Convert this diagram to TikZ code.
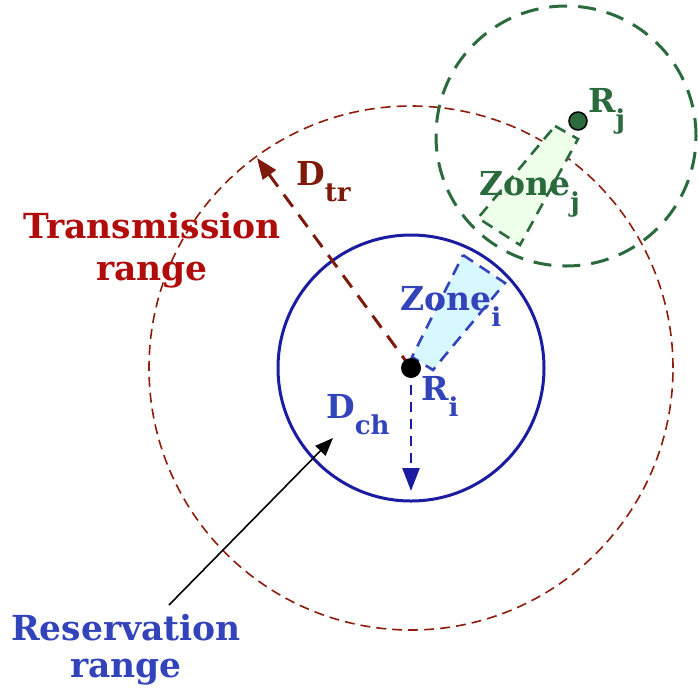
\documentclass[tikz,border=0pt]{standalone}
\usepackage{fontspec}
\setmainfont{DejaVu Serif}
\usetikzlibrary{arrows.meta}
\definecolor{redcirc}{HTML}{8C1C0C}
\definecolor{dtrcol}{HTML}{7D1A0C}
\definecolor{transcol}{HTML}{B00C0C}
\definecolor{grn}{HTML}{2A6A3C}
\definecolor{grnfill}{HTML}{EEFFEA}
\definecolor{navy}{HTML}{1C1CA0}
\definecolor{bluetxt}{HTML}{3344BB}
\definecolor{cyanfill}{HTML}{D8F8FF}
\newcommand\sbs[1]{\raisebox{-16pt}{\fontsize{26}{26}\selectfont #1}}
\tikzset{
  lbl/.style={font=\fontsize{33}{36}\selectfont\bfseries, inner sep=0pt, anchor=base west},
  biglbl/.style={font=\fontsize{34.5}{36}\selectfont\bfseries, inner sep=0pt, anchor=base},
  zoneborder/.style={line width=2.6pt, dash pattern=on 12pt off 8pt},
}
\begin{document}
\begin{tikzpicture}[x=1pt,y=-1pt]
\useasboundingbox (0,0) rectangle (698,691);
\coordinate (Ric) at (411,368);
% transmission range
\draw[redcirc, line width=1.6pt, dash pattern=on 10pt off 6pt] (Ric) circle[radius=262pt];
% green circle
\draw[grn, line width=3pt, dash pattern=on 18pt off 11pt] (566,136) circle[radius=130pt];
% reservation range
\draw[navy, line width=3pt] (Ric) circle[radius=133pt];
% zones
\draw[grn, fill=grnfill, zoneborder] (555,126) -- (578,139) -- (520,245) -- (478,218) -- cycle;
\draw[bluetxt, fill=cyanfill, zoneborder] (463,255) -- (505,283) -- (433,370) -- (412,357) -- cycle;
% arrows
\coordinate (trEnd) at (257,158);
\coordinate (chEnd) at (411,491);
\draw[dtrcol, line width=3pt, dash pattern=on 15pt off 10pt, -{Triangle[length=21pt,width=16pt]}] (Ric) -- (trEnd);
\draw[navy, line width=2.6pt, dash pattern=on 10pt off 7pt, -{Triangle[length=23pt,width=17pt]}] (Ric) -- (chEnd);
% dots
\node[circle, fill=black, minimum size=20pt, inner sep=0pt] (Ri) at (Ric) {};
\node[circle, fill=grn, draw=black, line width=1.5pt, minimum size=18pt, inner sep=0pt] (Rj) at (578,121) {};
% labels
\node[lbl, text=dtrcol] (Dtr) at (296,185) {D\sbs{tr}};
\node[lbl, text=bluetxt] (Dch) at (326,418) {D\sbs{ch}};
\node[lbl, text=bluetxt] (RiL) at (421,400) {R\sbs{i}};
\node[lbl, text=grn] (RjL) at (588,112) {R\sbs{j}};
\node[lbl, text=bluetxt] (ZiL) at (400,310) {Zone\sbs{i}};
\node[lbl, text=grn] (ZjL) at (479,195) {Zone\sbs{j}};
\node[biglbl, text=transcol] (trans1) at (152,238) {Transmission};
\node[biglbl, text=transcol] (trans2) at (152,280) {range};
\node[biglbl, text=bluetxt] (resv1) at (126,640) {Reservation};
\node[biglbl, text=bluetxt] (resv2) at (126,677) {range};
% pointer
\coordinate (ptrStart) at (169,605);
\coordinate (ptrEnd) at (333,438);
\draw[black, line width=1.6pt, -{Triangle[length=18pt,width=14pt]}] (ptrStart) -- (ptrEnd);
\end{tikzpicture}
\end{document}
